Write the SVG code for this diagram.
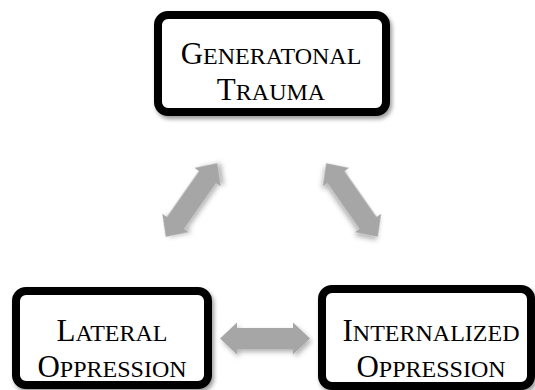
<svg xmlns="http://www.w3.org/2000/svg" width="535" height="390" viewBox="0 0 535 390">
  <defs>
    <filter id="shadow" x="-20%" y="-20%" width="140%" height="140%">
      <feDropShadow dx="2" dy="3" stdDeviation="2" flood-color="#000" flood-opacity="0.4"/>
    </filter>
    <filter id="ashadow" x="-30%" y="-30%" width="160%" height="160%">
      <feDropShadow dx="2" dy="3" stdDeviation="2.5" flood-color="#000" flood-opacity="0.3"/>
    </filter>
    <path id="dblarrow" d="M-45,0 L-28,-16 L-28,-10.5 L28,-10.5 L28,-16 L45,0 L28,16 L28,10.5 L-28,10.5 L-28,16 Z"/>
  </defs>
  <style>
    .box { fill: #ffffff; stroke: #000000; stroke-width: 8; filter: url(#shadow); }
    .lbl { font-family: "Liberation Serif", "Times New Roman", serif; font-size: 31px; fill: #000000; text-anchor: middle; }
    .sc { font-size: 24px; }
    .arrow { fill: #a6a6a6; filter: url(#ashadow); }
  </style>
  <rect width="535" height="390" fill="#ffffff"/>

  <g id="connectors">
    <use href="#dblarrow" class="arrow" transform="translate(191.5,200) rotate(-55)"/>
    <use href="#dblarrow" class="arrow" transform="translate(352,200) rotate(55)"/>
    <use href="#dblarrow" class="arrow" transform="translate(265,338.5)"/>
  </g>

  <g id="node-generational-trauma">
    <rect class="box" x="158" y="15" width="228" height="97" rx="10" ry="10"/>
    <text class="lbl" x="271" y="64">G<tspan class="sc">ENERATONAL</tspan></text>
    <text class="lbl" x="271" y="100">T<tspan class="sc">RAUMA</tspan></text>
  </g>

  <g id="node-lateral-oppression">
    <rect class="box" x="16" y="291" width="192" height="94" rx="10" ry="10"/>
    <text class="lbl" x="112" y="341">L<tspan class="sc">ATERAL</tspan></text>
    <text class="lbl" x="112" y="377">O<tspan class="sc">PPRESSION</tspan></text>
  </g>

  <g id="node-internalized-oppression">
    <rect class="box" x="322" y="289" width="209" height="97" rx="10" ry="10"/>
    <text class="lbl" x="431" y="341">I<tspan class="sc">NTERNALIZED</tspan></text>
    <text class="lbl" x="431" y="377">O<tspan class="sc">PPRESSION</tspan></text>
  </g>
</svg>
